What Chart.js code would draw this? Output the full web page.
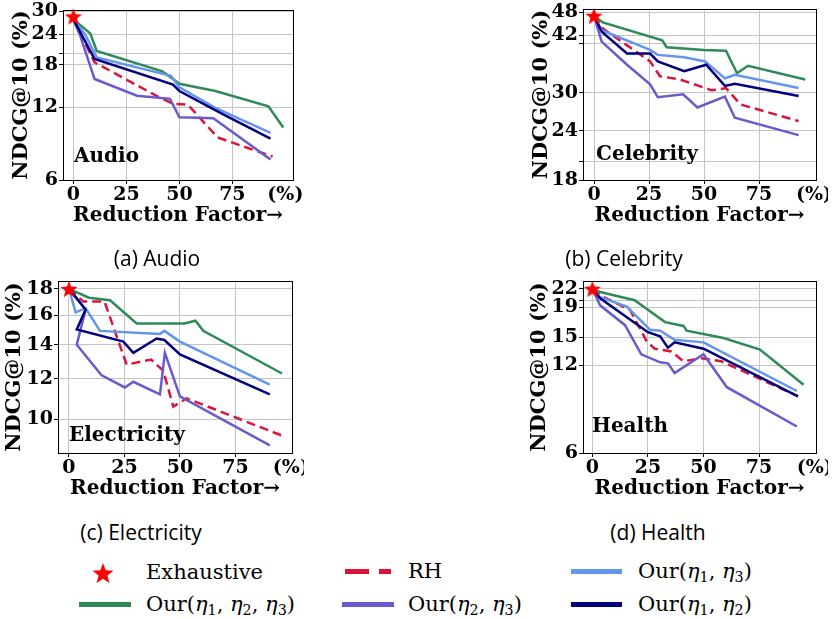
<!DOCTYPE html>
<html>
<head>
<meta charset="utf-8">
<script src="https://cdn.jsdelivr.net/npm/chart.js@4.4.1/dist/chart.umd.min.js"></script>
<style>
  body { margin:0; background:#fff; width:832px; height:619px; position:relative; overflow:hidden; }
  canvas.panel { position:absolute; }
  .cap { position:absolute; font-family:"Open Sans", sans-serif; font-size:21px; color:#000;
         transform:translate(-50%,-50%); white-space:nowrap; }
  .legtxt { position:absolute; font-family:"DejaVu Serif", serif; font-size:21px; color:#000;
            transform:translateY(-50%); white-space:nowrap; }
  .legtxt sub { font-size:0.68em; vertical-align:-0.3em; line-height:0; }
  .sw { position:absolute; height:5px; }
</style>
</head>
<body>

<script>
// series names (legend order as in the figure)
const seriesNames = ['Exhaustive', 'RH', 'Our(η1,η3)', 'Our(η1,η2,η3)', 'Our(η2,η3)', 'Our(η1,η2)'];
const xTicks = [0, 25, 50, 75, 100];

// ---- (a) Audio ----  [reduction %, NDCG@10 %]
const audioStar = [[0, 28.5]];
const audioRH   = [[0,27.7],[10,18.4],[39,13.4],[47,12.4],[54,12.3],[68,9.0],[94,7.5]];
const audio13   = [[0,27.7],[5.5,24.0],[11,19.3],[46,16.2],[50,14.5],[68,11.8],[93,9.4]];
const audio123  = [[0,27.7],[8,24.2],[11,20.5],[42,16.9],[50,15.0],[67,14.0],[92,12.1],[99,9.9]];
const audio23   = [[0,27.7],[3,24.0],[10,15.7],[30,13.4],[45.6,13.0],[50,10.9],[66,10.8],[93,7.3]];
const audio12   = [[0,27.7],[10,19.0],[47,14.9],[50,14.0],[70,11.3],[93,8.9]];
const audioYTicks = [6, 12, 18, 24, 30];
const audioYMinor = [20];

// ---- (b) Celebrity ----
const celebStar = [[0, 47]];
const celebRH   = [[0,47],[4,43.6],[18,38.5],[25.5,36],[30,33],[39,32.4],[53.5,30.4],[60,30.8],[66.5,28],[93,25.4]];
const celeb13   = [[0,47],[3.5,43.2],[25.5,38.5],[29,37.4],[41,36.9],[50.5,36],[59.5,32.6],[64,33.3],[93,30.8]];
const celeb123  = [[0,47],[4,45.2],[31,40.7],[33,39.1],[50,38.5],[60,38.3],[65,33.6],[70,35.1],[96,32.4]];
const celeb23   = [[0,47],[3.5,40.4],[15,35.3],[25.5,31.5],[29,29.2],[40.5,29.7],[47,27.5],[59.5,29.3],[64,25.9],[93,23.4]];
const celeb12   = [[0,47],[3.5,42.8],[15,37.7],[25.5,37.7],[29,36],[41,34],[51,35.3],[59.5,31.2],[64,31.6],[93,29.4]];
const celebYTicks = [18, 24, 30, 42, 48];
const celebYMinor = [20, 40];

// ---- (c) Electricity ----
const elecStar = [[0, 18]];
const elecRH   = [[0,18],[6.5,17.0],[16,17.0],[26,12.8],[37,13.1],[42.5,12.45],[47,10.6],[53,11.0],[96,9.3]];
const elec13   = [[0,18],[3,16.2],[7.5,16.5],[14,14.9],[41,14.7],[43,14.9],[50,14.2],[90.5,11.7]];
const elec123  = [[0,18],[9,17.3],[18.5,17.1],[30.5,15.4],[52,15.4],[57,15.6],[60.5,14.9],[96,12.3]];
const elec23   = [[0,18],[7.5,16.4],[3.5,14.0],[14.7,12.2],[25.2,11.55],[29,11.85],[41,11.2],[43.2,13.5],[50,11.1],[90.5,8.9]];
const elec12   = [[0,18],[7.5,16.4],[3.5,15.0],[24.5,14.2],[29,13.5],[39.5,14.4],[43,14.3],[50,13.4],[90.5,11.2]];
const elecYTicks = [10, 12, 14, 16, 18];
const elecYMinor = [];

// ---- (d) Health ----
const healthStar = [[0, 22]];
const healthRH   = [[0,22],[4,20.8],[17,18.6],[24.5,14.5],[28,13.7],[35.5,13.4],[41,12.4],[49,12.7],[58,12.4],[92.5,9.4]];
const health13   = [[0,22],[3.5,20.6],[15.5,19.1],[26,15.9],[30.5,15.8],[37,14.7],[50,14.4],[92,9.8]];
const health123  = [[0,22],[4,21.4],[19,20.1],[32.7,16.9],[41,16.4],[42.4,15.8],[59,14.9],[75.4,13.6],[95,10.3]];
const health23   = [[0,22],[3.5,19.3],[14.7,16.5],[22,13.1],[30.5,12.3],[34,12.2],[37,11.3],[50,13.1],[60.5,10.1],[92,7.4]];
const health12   = [[0,22],[3.5,20.4],[25,15.6],[30.5,15.1],[34,13.8],[37,14.4],[50,13.7],[92.5,9.4]];
const healthYTicks = [6, 12, 15, 19, 22];
const healthYMinor = [20];

// colours
const cStar = '#ff0000', cRH = '#dc143c', c13 = '#6495ed', c123 = '#2e8b57', c23 = '#6a5acd', c12 = '#000080';

function makeStar(r) {
  const c = document.createElement('canvas');
  const s = Math.ceil(2 * r + 2);
  c.width = s; c.height = s;
  const g = c.getContext('2d');
  g.fillStyle = cStar;
  g.beginPath();
  for (let i = 0; i < 10; i++) {
    const rad = i % 2 == 0 ? r : r * 0.42;
    const a = -Math.PI / 2 + i * Math.PI / 5;
    const px = s / 2 + rad * Math.cos(a), py = s / 2 + r * 0.1 + rad * Math.sin(a);
    if (i == 0) g.moveTo(px, py); else g.lineTo(px, py);
  }
  g.closePath(); g.fill();
  return c;
}
const starImg = makeStar(9);

const serifB = (sz) => ({ family: '"DejaVu Serif", serif', size: sz, weight: 'bold' });
const pts = (arr) => arr.map(p => ({ x: p[0], y: p[1] }));

// frame + in-plot name
const framePlugin = {
  id: 'frame',
  afterDraw(chart) {
    const a = chart.chartArea, ctx = chart.ctx, o = chart.options.plugins.frame;
    ctx.save();
    ctx.strokeStyle = '#000'; ctx.lineWidth = 1;
    ctx.strokeRect(Math.round(a.left) + 0.5, Math.round(a.top) + 0.5,
                   Math.round(a.right - a.left), Math.round(a.bottom - a.top));
    ctx.font = 'bold 20px "DejaVu Serif", serif';
    ctx.fillStyle = '#000'; ctx.textBaseline = 'middle';
    ctx.fillText(o.name, a.left + o.dx, a.bottom - o.dy);
    ctx.restore();
  }
};

function makePanel(p) {
  const YW = 60, PT = 8, PR = 12, XH = 48;
  const cv = document.createElement('canvas');
  cv.className = 'panel';
  const w = (p.R - p.L) + YW + PR, h = (p.B - p.T) + PT + XH;
  cv.width = w; cv.height = h;
  cv.style.left = (p.L - YW) + 'px'; cv.style.top = (p.T - PT) + 'px';
  cv.style.width = w + 'px'; cv.style.height = h + 'px';
  document.body.appendChild(cv);

  const line = (label, data, color, order, dash) => ({
    label: label, data: pts(data), borderColor: color, backgroundColor: color,
    borderWidth: 2.5, borderDash: dash || [], pointRadius: 0, tension: 0, order: order, fill: false
  });
  const s = p.series;
  const datasets = [
    { label: seriesNames[0], data: pts(s[0]), showLine: false, pointStyle: starImg, pointRadius: 9,
      order: 0, clip: false },
    line(seriesNames[1], s[1], cRH, 4, [9, 5]),
    line(seriesNames[2], s[2], c13, 2),
    line(seriesNames[3], s[3], c123, 5),
    line(seriesNames[4], s[4], c23, 3),
    line(seriesNames[5], s[5], c12, 1)
  ];
  const allY = p.yTicks.concat(p.yMinor).sort((a, b) => a - b);

  new Chart(cv.getContext('2d'), {
    type: 'line',
    data: { datasets: datasets },
    plugins: [framePlugin],
    options: {
      responsive: false, animation: false, devicePixelRatio: 1,
      layout: { padding: { left: 0, top: PT, right: PR, bottom: 0 } },
      plugins: {
        legend: { display: false }, tooltip: { enabled: false },
        frame: { name: p.name, dx: p.dx, dy: p.dy }
      },
      scales: {
        x: {
          type: 'linear', min: p.xmin, max: p.xmax,
          afterBuildTicks: (sc) => { sc.ticks = xTicks.map(v => ({ value: v })); },
          afterFit: (sc) => { sc.height = XH; sc.paddingLeft = 0; sc.paddingRight = 0; },
          ticks: { callback: (v) => v === 100 ? '(%)' : String(v), font: serifB(19), color: '#000',
                   padding: 0, maxRotation: 0, autoSkip: false },
          grid: { color: (c) => (c.tick && c.tick.value === 100) ? 'rgba(0,0,0,0)' : '#c4c4c4',
                  tickColor: (c) => (c.tick && c.tick.value === 100) ? 'rgba(0,0,0,0)' : '#000',
                  tickLength: 4, lineWidth: 1 },
          border: { display: true, color: '#000' },
          title: { display: true, text: 'Reduction Factor→', font: serifB(20), color: '#000',
                   padding: { top: 0, bottom: 0 } }
        },
        y: {
          type: 'logarithmic', min: p.ymin, max: p.ymax,
          afterBuildTicks: (sc) => { sc.ticks = allY.map(v => ({ value: v })); },
          afterFit: (sc) => { sc.width = YW; sc.paddingTop = 0; sc.paddingBottom = 0; },
          ticks: { callback: (v) => p.yTicks.includes(v) ? String(v) : '', font: serifB(19), color: '#000',
                   padding: 1, autoSkip: false },
          grid: { color: '#c4c4c4', tickColor: '#000', tickLength: 4, lineWidth: 1 },
          border: { display: true, color: '#000' },
          title: { display: true, text: 'NDCG@10 (%)', font: serifB(21), color: '#000',
                   padding: { top: p.tpad, bottom: 0 } }
        }
      }
    }
  });
}

makePanel({ L: 63, R: 293, T: 8, B: 180, xmin: -4.9, xmax: 103.6, ymin: 6, ymax: 30.3,
  yTicks: audioYTicks, yMinor: audioYMinor, name: 'Audio', dx: 11, dy: 23, tpad: 6,
  series: [audioStar, audioRH, audio13, audio123, audio23, audio12] });
makePanel({ L: 583, R: 816, T: 7, B: 180, xmin: -5, xmax: 100.9, ymin: 18, ymax: 48.9,
  yTicks: celebYTicks, yMinor: celebYMinor, name: 'Celebrity', dx: 13, dy: 25, tpad: 6,
  series: [celebStar, celebRH, celeb13, celeb123, celeb23, celeb12] });
makePanel({ L: 58, R: 292, T: 279, B: 453, xmin: -4.95, xmax: 100.5, ymin: 8.6, ymax: 18.65,
  yTicks: elecYTicks, yMinor: elecYMinor, name: 'Electricity', dx: 11, dy: 17, tpad: 4,
  series: [elecStar, elecRH, elec13, elec123, elec23, elec12] });
makePanel({ L: 583, R: 816, T: 279, B: 453, xmin: -4.2, xmax: 100.6, ymin: 6, ymax: 23.4,
  yTicks: healthYTicks, yMinor: healthYMinor, name: 'Health', dx: 9, dy: 26, tpad: 4,
  series: [healthStar, healthRH, health13, health123, health23, health12] });

// captions
[['(a) Audio', 157, 258], ['(b) Celebrity', 624, 258], ['(c) Electricity', 141, 532], ['(d) Health', 658, 532]]
  .forEach(c => {
    const d = document.createElement('div');
    d.className = 'cap'; d.textContent = c[0];
    d.style.left = c[1] + 'px'; d.style.top = c[2] + 'px';
    document.body.appendChild(d);
  });

// legend
function legText(html, x, y) {
  const d = document.createElement('div');
  d.className = 'legtxt'; d.innerHTML = html;
  d.style.left = x + 'px'; d.style.top = y + 'px';
  document.body.appendChild(d);
}
function legLine(x1, x2, y, color) {
  const d = document.createElement('div');
  d.className = 'sw';
  d.style.left = x1 + 'px'; d.style.width = (x2 - x1) + 'px';
  d.style.top = (y - 2.5) + 'px'; d.style.background = color;
  document.body.appendChild(d);
}
const eta = (n) => '<i>η</i><sub>' + n + '</sub>';
const legStar = makeStar(11);
legStar.style.position = 'absolute';
legStar.style.left = (103 - legStar.width / 2) + 'px';
legStar.style.top = (573 - legStar.height / 2) + 'px';
document.body.appendChild(legStar);
legText('Exhaustive', 146, 572);
legLine(345, 369, 571, cRH); legLine(379, 391, 571, cRH);
legText('RH', 408, 571);
legLine(571, 622, 571, c13);
legText('Our(' + eta(1) + ', ' + eta(3) + ')', 638, 571);
legLine(79, 131, 604, c123);
legText('Our(' + eta(1) + ', ' + eta(2) + ', ' + eta(3) + ')', 146, 604);
legLine(342, 394, 604, c23);
legText('Our(' + eta(2) + ', ' + eta(3) + ')', 408, 604);
legLine(571, 622, 604, c12);
legText('Our(' + eta(1) + ', ' + eta(2) + ')', 638, 604);
</script>
</body>
</html>
